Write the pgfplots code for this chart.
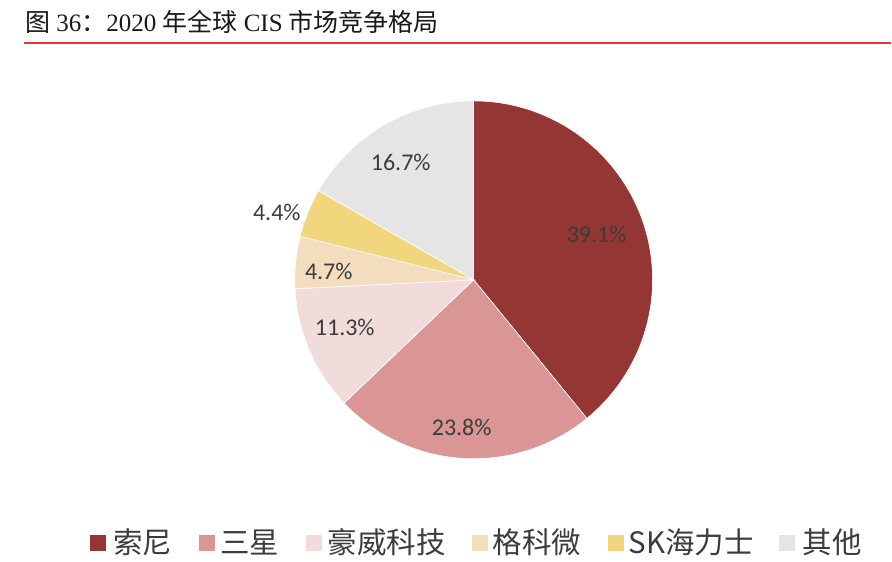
\documentclass[border=0pt]{standalone}
\usepackage{pgfplots}
\pgfplotsset{compat=1.18}
\usepackage{fontspec}
\setmainfont{Liberation Serif}
\newfontfamily\cjk{Noto Sans CJK SC}
\newfontfamily\lab{Carlito}

\definecolor{csony}{RGB}{148,54,52}
\definecolor{csamsung}{RGB}{217,150,148}
\definecolor{comni}{RGB}{242,220,219}
\definecolor{cgc}{RGB}{244,221,190}
\definecolor{csk}{RGB}{241,214,126}
\definecolor{cother}{RGB}{229,229,229}
\definecolor{titlered}{RGB}{232,52,50}
\definecolor{txt}{RGB}{60,60,60}

% pie centre and radius in pixel units of the axis
\newcommand{\cx}{474}
\newcommand{\cy}{280}
% slice: start share (%), share (%), colour
\newcommand{\slice}[3]{%
  \fill[#3, draw=white, line width=0.6bp] (axis cs:\cx,\cy) -- ++({90-3.6*#1}:179bp)
    arc[start angle={90-3.6*#1}, end angle={90-3.6*(#1+#2)}, radius=179bp] -- cycle;}
% legend entry: square left x, text left x, colour, text
\newcommand{\legentry}[4]{%
  \fill[#3] (axis cs:#1,535) rectangle (axis cs:#1+16,551);
  \node[anchor=west, inner sep=0pt, text=txt, font=\cjk\fontsize{29.5bp}{31bp}\selectfont]
    at (axis cs:#2,543) {#4};}
\newcommand{\pct}[3]{%
  \node[text=txt, font=\lab\fontsize{24bp}{26bp}\selectfont] at (axis cs:#1,#2) {#3};}

\begin{document}
\begin{tikzpicture}
\begin{axis}[
  width=892bp, height=562bp, scale only axis,
  xmin=0, xmax=892, ymin=0, ymax=562, y dir=reverse,
  hide axis, clip=false,
]
  % keep the whole canvas as the bounding box
  \path (axis cs:0,0) rectangle (axis cs:892,562);

  % title and rule
  \node[anchor=west, inner sep=0pt, text=black!90, font=\fontsize{25bp}{27bp}\selectfont]
    at (axis cs:25,22) {{\cjk 图} 36{\cjk ：}2020 {\cjk 年全球} CIS {\cjk 市场竞争格局}};
  \draw[titlered, line width=1.2bp] (axis cs:24,43) -- (axis cs:892,43);

  % shares in percent
  \slice{0}{39.1}{csony}
  \slice{39.1}{23.8}{csamsung}
  \slice{62.9}{11.3}{comni}
  \slice{74.2}{4.7}{cgc}
  \slice{78.9}{4.4}{csk}
  \slice{83.3}{16.7}{cother}

  \pct{597}{235}{39.1\%}
  \pct{462}{428}{23.8\%}
  \pct{345}{328}{11.3\%}
  \pct{329}{272}{4.7\%}
  \pct{277}{213}{4.4\%}
  \pct{401}{163}{16.7\%}

  \legentry{90}{113}{csony}{索尼}
  \legentry{199}{220}{csamsung}{三星}
  \legentry{306}{328}{comni}{豪威科技}
  \legentry{472}{493}{cgc}{格科微}
  \legentry{608}{629}{csk}{SK海力士}
  \legentry{780}{803}{cother}{其他}
\end{axis}
\end{tikzpicture}
\end{document}
